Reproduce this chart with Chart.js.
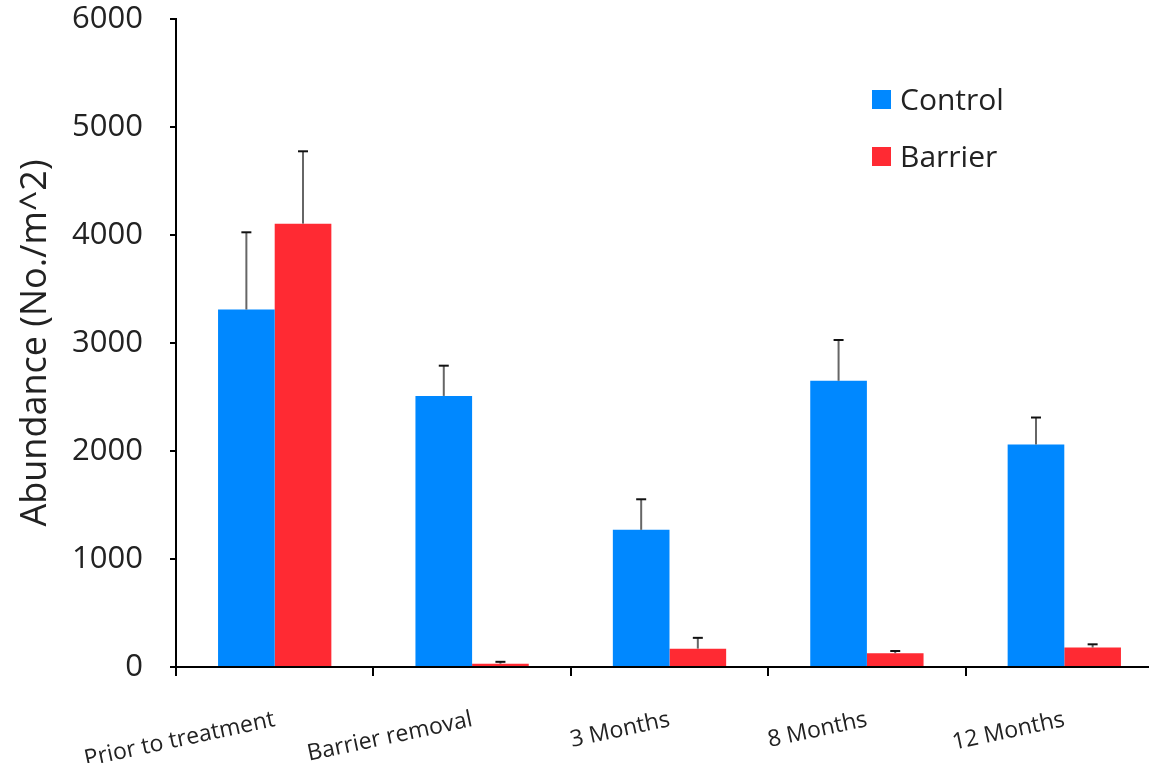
<!DOCTYPE html>
<html>
<head>
<meta charset="utf-8">
<script src="https://cdn.jsdelivr.net/npm/chart.js@4.4.1/dist/chart.umd.min.js"></script>
<style>
  html, body { margin: 0; padding: 0; background: #fff; overflow: hidden; }
  #chart { display: block; }
</style>
</head>
<body>
<canvas id="chart" width="1166" height="763"></canvas>
<script>
/* =====================
   DATA
===================== */
const periods = ["Prior to treatment", "Barrier removal", "3 Months", "8 Months", "12 Months"];
const control = [3310, 2510, 1270, 2650, 2060];
const controlErr = [715, 280, 283, 378, 250];
const barrier = [4105, 30, 170, 127, 180];
const barrierErr = [670, 18, 100, 21, 30];
const yTicks = [0, 1000, 2000, 3000, 4000, 5000, 6000];

const BLUE = "#0088ff";
const RED = "#ff2a33";
const FONT = "'Open Sans', 'DejaVu Sans', sans-serif";

/* =====================
   PLUGINS
===================== */
// one-sided (upper) error bars on top of each bar
const errorBars = {
  id: "errorBars",
  afterDatasetsDraw(chart) {
    const { ctx, scales: { y } } = chart;
    chart.data.datasets.forEach((ds, i) => {
      const meta = chart.getDatasetMeta(i);
      meta.data.forEach((bar, j) => {
        const top = y.getPixelForValue(ds.data[j] + ds.errors[j]);
        ctx.save();
        ctx.strokeStyle = "#666";
        ctx.lineWidth = 2;
        ctx.beginPath();
        ctx.moveTo(bar.x, bar.y);
        ctx.lineTo(bar.x, top);
        ctx.stroke();
        ctx.strokeStyle = "#111";
        ctx.beginPath();
        ctx.moveTo(bar.x - 5, top);
        ctx.lineTo(bar.x + 5, top);
        ctx.stroke();
        ctx.restore();
      });
    });
  }
};

// legend drawn inside the plot, top right
const innerLegend = {
  id: "innerLegend",
  afterDraw(chart) {
    const { ctx, chartArea } = chart;
    const x = chartArea.right - 291;
    let y = chartArea.top + 80;
    ctx.save();
    ctx.font = "30px " + FONT;
    ctx.textBaseline = "middle";
    chart.data.datasets.forEach(ds => {
      ctx.fillStyle = ds.backgroundColor;
      ctx.fillRect(x, y - 9, 19, 19);
      ctx.fillStyle = "#222";
      ctx.fillText(ds.label, x + 28, y + 2);
      y += 57;
    });
    ctx.restore();
  }
};

/* =====================
   CHART
===================== */
new Chart(document.getElementById("chart"), {
  type: "bar",
  data: {
    labels: periods,
    datasets: [
      { label: "Control", data: control, errors: controlErr, backgroundColor: BLUE },
      { label: "Barrier", data: barrier, errors: barrierErr, backgroundColor: RED }
    ]
  },
  options: {
    responsive: false,
    animation: false,
    devicePixelRatio: 1,
    layout: { padding: { top: 19, right: 3, left: 0, bottom: 0 } },
    datasets: { bar: { barPercentage: 1, categoryPercentage: 0.574 } },
    plugins: {
      legend: { display: false },
      tooltip: { enabled: false }
    },
    scales: {
      x: {
        afterFit: s => {
          s.height = 96;
          s.paddingLeft = 0;
          s.paddingRight = 0;
        },
        grid: { drawOnChartArea: false, drawTicks: true, tickLength: 9, color: "#000", lineWidth: 2 },
        border: { color: "#000", width: 2 },
        ticks: {
          autoSkip: false,
          minRotation: 12,
          maxRotation: 12,
          padding: 30,
          color: "#222",
          font: { family: FONT, size: 23 }
        }
      },
      y: {
        min: 0,
        max: 6000,
        afterFit: s => {
          s.width = 176;
          s.paddingTop = 0;
          s.paddingBottom = 0;
        },
        afterBuildTicks: s => { s.ticks = yTicks.map(v => ({ value: v })); },
        grid: { drawOnChartArea: false, drawTicks: true, tickLength: 6, color: "#000", lineWidth: 2 },
        border: { color: "#000", width: 2 },
        ticks: {
          padding: 27,
          color: "#222",
          font: { family: FONT, size: 31 },
          callback: v => String(v)
        },
        title: {
          display: true,
          text: "Abundance (No./m^2)",
          color: "#222",
          padding: { top: 14, bottom: 0 },
          font: { family: FONT, size: 36 }
        }
      }
    }
  },
  plugins: [errorBars, innerLegend]
});
</script>
</body>
</html>
